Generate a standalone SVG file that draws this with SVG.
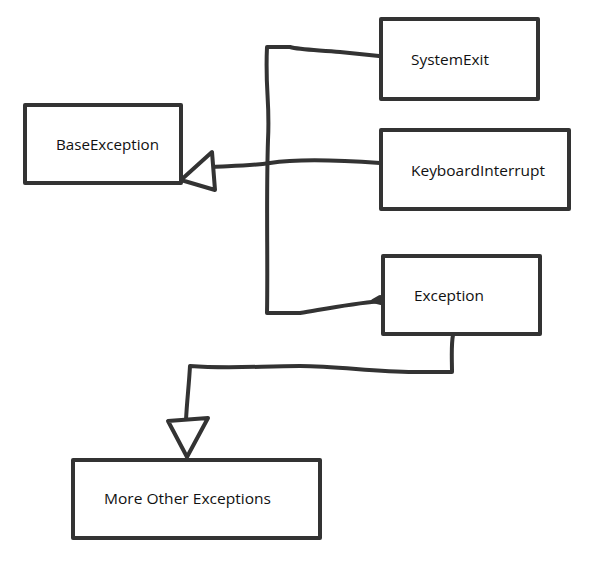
<svg xmlns="http://www.w3.org/2000/svg" width="610" height="574" viewBox="0 0 610 574">
<style>
.box{fill:#fff;stroke:#333;stroke-width:4;stroke-linejoin:round}
.ln{fill:none;stroke:#333;stroke-width:4;stroke-linecap:round;stroke-linejoin:round}
.tri{fill:#fff;stroke:#333;stroke-width:4;stroke-linejoin:round}
.t{font-family:"Open Sans","Noto Sans",sans-serif;font-size:15px;fill:#111}
</style>
<rect width="610" height="574" fill="#fff"/>
<g id="connectors">
<path class="ln" d="M379,56 L340,52 C320,50 300,50 290,47 L267,47 C265,90 270,100 268,140 C266,200 268,260 267,313 L300,313 C330,308 350,304 380,301"/>
<path class="ln" d="M373,301 L380,297 L381,303 Z"/>
<path class="ln" d="M380,163 C340,160 300,158 270,163 C250,166 230,166 213,167"/>
<polygon class="tri" points="181,180 212,152 215,190"/>
<path class="ln" d="M453,335 C451,345 452,360 452,372 L420,372 C380,373 340,366 300,366 C260,366 230,369 190,366 C189,385 187,400 186,420"/>
<polygon class="tri" points="168,421 208,418 187,457"/>
</g>
<g id="BaseException">
<rect class="box" x="25" y="105" width="156" height="78"/>
<text class="t" x="56" y="150" textLength="103" lengthAdjust="spacingAndGlyphs">BaseException</text>
</g>
<g id="SystemExit">
<rect class="box" x="381" y="19" width="157" height="80"/>
<text class="t" x="411" y="65" textLength="78" lengthAdjust="spacingAndGlyphs">SystemExit</text>
</g>
<g id="KeyboardInterrupt">
<rect class="box" x="381" y="130" width="188" height="79"/>
<text class="t" x="411" y="176" textLength="134" lengthAdjust="spacingAndGlyphs">KeyboardInterrupt</text>
</g>
<g id="Exception">
<rect class="box" x="383" y="256" width="157" height="78"/>
<text class="t" x="414" y="301" textLength="70" lengthAdjust="spacingAndGlyphs">Exception</text>
</g>
<g id="MoreOtherExceptions">
<rect class="box" x="73" y="460" width="247" height="78"/>
<text class="t" x="104" y="504" textLength="167" lengthAdjust="spacingAndGlyphs">More Other Exceptions</text>
</g>
</svg>
